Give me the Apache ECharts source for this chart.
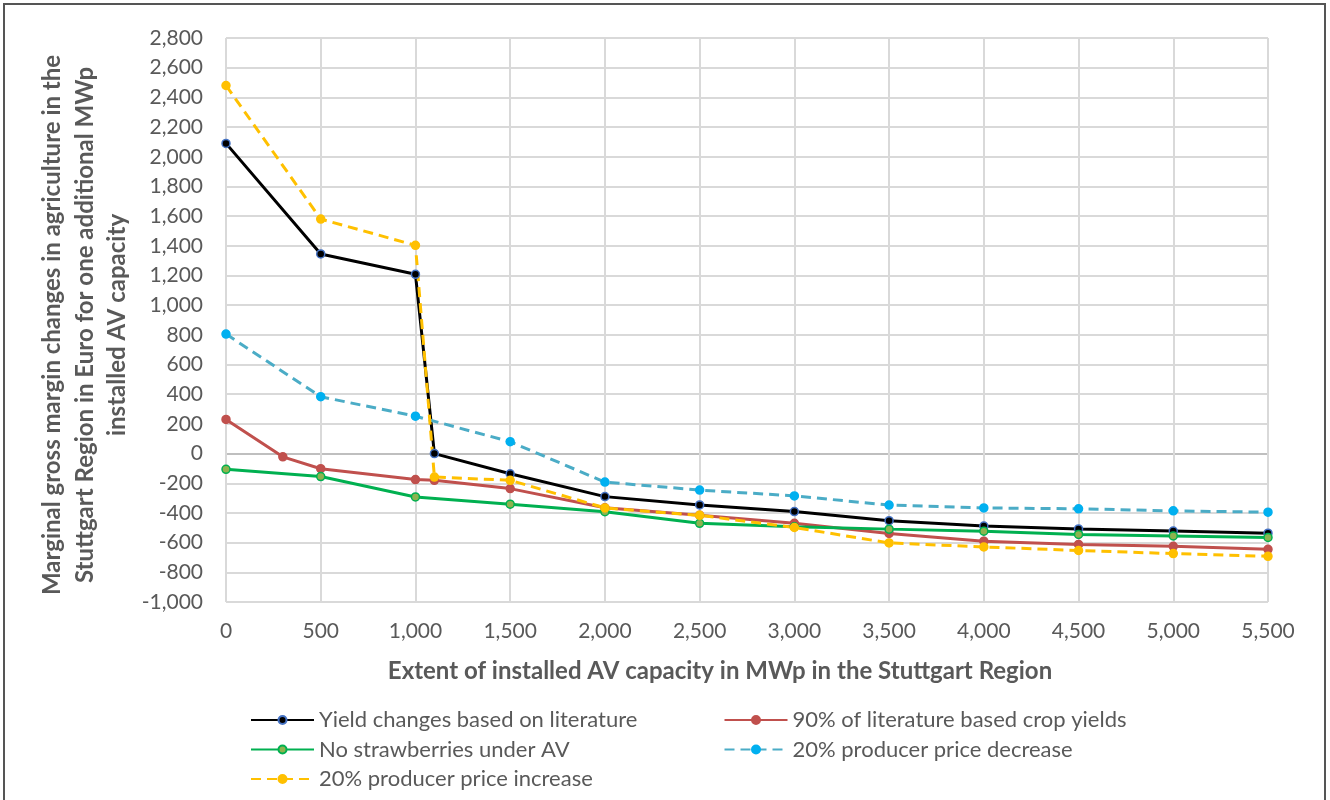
<!DOCTYPE html>
<html>
<head>
<meta charset="utf-8">
<script src="https://cdn.jsdelivr.net/npm/echarts@6/dist/echarts.min.js"></script>
<style>
html,body{margin:0;padding:0;background:#fff;}
#frame{position:absolute;left:3px;top:3px;width:1323px;height:820px;border:2px solid #555;box-sizing:border-box;}
#chart{position:absolute;left:0;top:0;width:1330px;height:800px;}
</style>
</head>
<body>
<div id="frame"></div>
<div id="chart"></div>
<script>
// ---- data ----
const seriesNames = [
  'Yield changes based on literature',
  '90% of literature based crop yields',
  'No strawberries under AV',
  '20% producer price decrease',
  '20% producer price increase'
];
const xYield    = [0, 500, 1000, 1100, 1500, 2000, 2500, 3000, 3500, 4000, 4500, 5000, 5500];
const yYield    = [2090, 1345, 1208, 0, -136, -290, -346, -391, -452, -488, -508, -522, -536];
const x90       = [0, 300, 500, 1000, 1100, 1500, 2000, 2500, 3000, 3500, 4000, 4500, 5000, 5500];
const y90       = [230, -22, -102, -175, -180, -236, -365, -415, -470, -538, -590, -612, -625, -645];
const xNoStraw  = [0, 500, 1000, 1500, 2000, 2500, 3000, 3500, 4000, 4500, 5000, 5500];
const yNoStraw  = [-106, -155, -292, -341, -392, -470, -493, -509, -523, -545, -555, -565];
const xDecrease = [0, 500, 1000, 1500, 2000, 2500, 3000, 3500, 4000, 4500, 5000, 5500];
const yDecrease = [805, 383, 252, 80, -192, -246, -285, -347, -366, -372, -386, -395];
const xIncrease = [0, 500, 1000, 1100, 1500, 2000, 2500, 3000, 3500, 4000, 4500, 5000, 5500];
const yIncrease = [2480, 1580, 1403, -158, -180, -366, -416, -498, -602, -629, -653, -674, -692];

const yTitleLines = [
  'Marginal gross margin changes in agriculture in the',
  'Stuttgart Region in Euro for one additional MWp',
  'installed AV capacity'
];
const xTitle = 'Extent of installed AV capacity in MWp in the Stuttgart Region';

const pairs = (xs, ys) => xs.map((x, i) => [x, ys[i]]);
const fmt = v => Number(v).toLocaleString('en-US');
const FONT = 'Lato, "Open Sans", sans-serif';
const TXT = '#595959';

// split line colors: the zero line darker
const yMin = -1000, yMax = 2800, yStep = 200;
const splitColors = [];
for (let v = yMin; v <= yMax; v += yStep) splitColors.push(v === 0 ? '#BFBFBF' : '#D9D9D9');

function lineSeries(name, data, lineColor, markerFill, markerBorder, dashed) {
  return {
    name: name,
    type: 'line',
    data: data,
    symbol: 'circle',
    symbolSize: 8,
    showSymbol: true,
    lineStyle: { color: lineColor, width: 3, type: dashed ? [10, 6] : 'solid' },
    itemStyle: { color: markerFill, borderColor: markerBorder, borderWidth: 1.5 },
    emphasis: { disabled: true },
    animation: false
  };
}

const chart = echarts.init(document.getElementById('chart'));
chart.setOption({
  backgroundColor: 'transparent',
  animation: false,
  grid: { left: 226, right: 62, top: 38, bottom: 198, containLabel: false },
  xAxis: {
    type: 'value', min: 0, max: 5500, interval: 500,
    axisLine: { show: false },
    axisTick: { show: false },
    axisLabel: { color: TXT, fontFamily: FONT, fontSize: 21, margin: 19, formatter: fmt },
    splitLine: { show: true, lineStyle: { color: '#D9D9D9', width: 2 } }
  },
  yAxis: {
    type: 'value', min: yMin, max: yMax, interval: yStep,
    axisLine: { show: false },
    axisTick: { show: false },
    axisLabel: { color: TXT, fontFamily: FONT, fontSize: 21, margin: 23, formatter: fmt },
    splitLine: { show: true, lineStyle: { color: splitColors, width: 2 } }
  },
  legend: {
    left: 250, top: 709, width: 1000, padding: 0,
    itemWidth: 63, itemHeight: 10, itemGap: 7.5,
    textStyle: { color: TXT, fontFamily: FONT, fontSize: 22, lineHeight: 22, width: 397 },
    data: seriesNames
  },
  graphic: [
    {
      type: 'text', x: 85, y: 325, rotation: Math.PI / 2,
      style: {
        text: yTitleLines.join('\n'), fill: TXT, font: 'bold 24px ' + FONT,
        align: 'center', verticalAlign: 'middle', lineHeight: 32.5
      }
    },
    {
      type: 'text', x: 720, y: 671,
      style: {
        text: xTitle, fill: TXT, font: 'bold 24px ' + FONT,
        align: 'center', verticalAlign: 'middle'
      }
    }
  ],
  series: [
    lineSeries(seriesNames[0], pairs(xYield, yYield), '#000000', '#000000', '#4472C4', false),
    lineSeries(seriesNames[1], pairs(x90, y90), '#C0504D', '#C0504D', '#C0504D', false),
    lineSeries(seriesNames[2], pairs(xNoStraw, yNoStraw), '#00B050', '#8DB34F', '#00B050', false),
    lineSeries(seriesNames[3], pairs(xDecrease, yDecrease), '#4BACC6', '#00B0F0', '#00B0F0', true),
    lineSeries(seriesNames[4], pairs(xIncrease, yIncrease), '#FFC000', '#FFC000', '#FFC000', true)
  ]
});
</script>
</body>
</html>
